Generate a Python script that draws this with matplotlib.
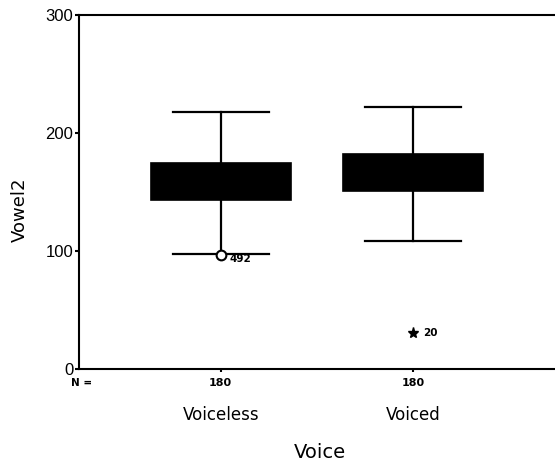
import matplotlib
matplotlib.use("Agg")
import matplotlib.pyplot as plt
import matplotlib.transforms as mtransforms

plt.rcParams['font.family'] = ['DejaVu Sans']

categories = ["Voiceless", "Voiced"]
n_counts = ["180", "180"]
q1 = [143, 151]
q3 = [175, 182]
med = [159, 166]
whislo = [97.5, 108.5]
whishi = [218, 222]
outliers = [[96.5], [30.5]]
outlier_labels = ["492", "20"]
outlier_markers = ["o", "*"]

fig = plt.figure(figsize=(5.55, 4.63), dpi=100)
ax = fig.add_axes([79/555, 1-369/463, 1-79/555, (369-15)/463])

stats = []
for i in range(2):
    stats.append(dict(med=med[i], q1=q1[i], q3=q3[i], whislo=whislo[i],
                      whishi=whishi[i], fliers=[], label=categories[i]))
positions = [1, 2]
ax.bxp(stats, positions=positions, widths=0.725, patch_artist=True,
       showfliers=False,
       boxprops=dict(facecolor='black', edgecolor='black', linewidth=1.2),
       medianprops=dict(color='black', linewidth=1.2),
       whiskerprops=dict(color='black', linewidth=1.6),
       capprops=dict(color='black', linewidth=1.6),
       capwidths=0.5)

for i in range(2):
    for v in outliers[i]:
        if outlier_markers[i] == 'o':
            ax.plot(positions[i], v, marker='o', ms=7, mfc='white', mec='black', mew=1.5,
                    zorder=5)
            off = (6, -2.5)
        else:
            ax.plot(positions[i], v, marker='*', ms=8, color='black', zorder=5)
            off = (7, 0)
        ax.annotate(outlier_labels[i], (positions[i], v), xytext=off,
                    textcoords='offset points', fontsize=7.5, fontweight='bold',
                    va='center', ha='left')

ax.set_xlim(0.264, 2.736)
ax.set_ylim(0, 300)
ax.set_yticks([0, 100, 200, 300])
ax.tick_params(axis='y', length=3, width=1.5, pad=1)
for lab in ax.get_yticklabels():
    lab.set_fontfamily('Liberation Sans')
    lab.set_fontsize(12)
ax.set_xticks(positions)
ax.set_xticklabels(categories, fontsize=12)
ax.tick_params(axis='x', length=2, width=1.5, pad=25)
ax.spines['right'].set_visible(False)
for s in ['left', 'bottom', 'top']:
    ax.spines[s].set_linewidth(1.5)

fig.text(20/555, 1-210/463, "Vowel2", fontsize=13, rotation=90, ha='center', va='center')
fig.text(320/555, 1-453/463, "Voice", fontsize=14, ha='center', va='center')

trans = mtransforms.blended_transform_factory(ax.transData, fig.transFigure)
for i in range(2):
    ax.text(positions[i], 1-383/463, n_counts[i], transform=trans, fontsize=8,
            fontweight='bold', ha='center', va='center')
fig.text(71/555, 1-383/463, "N =", fontsize=7.5, fontweight='bold', ha='left', va='center')

fig.savefig("out.png", dpi=100)
